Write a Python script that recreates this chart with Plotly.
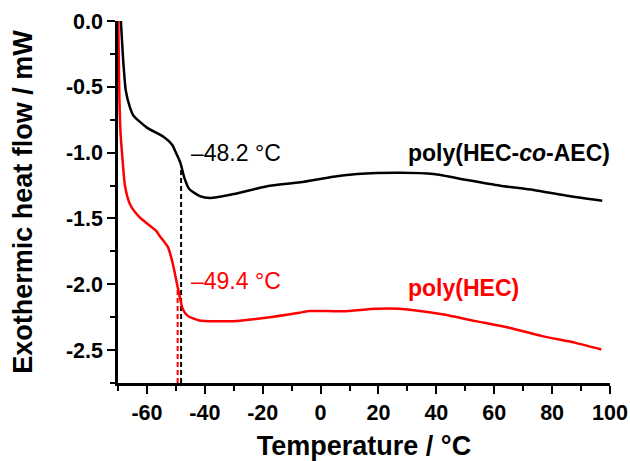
import plotly.graph_objects as go

# Data
copoly_temp = [-69.0, -68.2, -67.3, -65.9, -64.7, -60.0, -54.3, -51.3, -50.0, -48.4, -47.1, -45.4,
               -41.7, -38.3, -30.0, -18.5, -7.0, 4.4, 12.6, 27.6, 39.1, 50.6, 62.1, 73.6, 85.1, 97.3]
copoly_flow = [0.0, -0.30, -0.53, -0.655, -0.718, -0.81, -0.88, -0.94, -1.0, -1.08, -1.19, -1.276,
               -1.33, -1.345, -1.315, -1.255, -1.225, -1.183, -1.162, -1.152, -1.162, -1.208, -1.251,
               -1.284, -1.327, -1.365]

hec_temp = [-69.9, -69.6, -69.1, -68.4, -67.6, -65.9, -62.6, -56.8, -55.6, -52.7, -51.0, -49.3,
            -47.6, -45.9, -41.9, -30.4, -18.9, -7.4, -3.9, 7.6, 19.1, 27.1, 42.0, 53.6, 65.1,
            76.6, 88.1, 97.0]
hec_flow = [0.0, -0.50, -0.858, -1.06, -1.25, -1.39, -1.49, -1.594, -1.633, -1.72, -1.85, -2.03,
            -2.19, -2.24, -2.275, -2.28, -2.254, -2.216, -2.203, -2.205, -2.186, -2.186, -2.228,
            -2.28, -2.33, -2.394, -2.445, -2.495]

tg_temps = [-48.2, -49.4]
tg_flows = [-1.10, -2.03]
tg_labels = ["–48.2 °C", "–49.4 °C"]
series_names = ["poly(HEC-<i>co</i>-AEC)", "poly(HEC)"]
colors = ["#000000", "#ff0000"]

x_ticks = [-60, -40, -20, 0, 20, 40, 60, 80, 100]
x_ticktext = ["-60", "-40", "-20", "0", "20", "40", "60", "80", "100"]
x_minor = [-70, -50, -30, -10, 10, 30, 50, 70, 90]
y_ticks = [0.0, -0.5, -1.0, -1.5, -2.0, -2.5]
y_ticktext = ["0.0", "-0.5", "-1.0", "-1.5", "-2.0", "-2.5"]
y_minor = [-0.25, -0.75, -1.25, -1.75, -2.25, -2.75]

x_range = [-70, 100]
y_range = [-2.75, 0]

FONT = "Arial, Liberation Sans, sans-serif"

fig = go.Figure()

# dashed Tg markers (drawn first so curves sit on top)
for t, f, c in zip(tg_temps, tg_flows, colors):
    fig.add_trace(go.Scatter(x=[t, t], y=[y_range[0], f], mode="lines",
                             line=dict(color=c, width=2, dash="5px,3px"),
                             showlegend=False, hoverinfo="skip", cliponaxis=False))

fig.add_trace(go.Scatter(x=hec_temp, y=hec_flow, mode="lines",
                         line=dict(color=colors[1], width=2.5, shape="spline", smoothing=0.6),
                         showlegend=False))
fig.add_trace(go.Scatter(x=copoly_temp, y=copoly_flow, mode="lines",
                         line=dict(color=colors[0], width=2.5, shape="spline", smoothing=0.6),
                         showlegend=False))

# Tg annotations
for t, f, lab, c in zip([-45.3, -45.3], [-1.0, -1.975], tg_labels, colors):
    fig.add_annotation(x=t, y=f, text=lab, showarrow=False, xanchor="left", yanchor="middle",
                       font=dict(family=FONT, size=23, color=c))

# series labels
for y, lab, c in zip([-1.0, -2.026], series_names, colors):
    fig.add_annotation(x=29.5, y=y, text=lab, showarrow=False, xanchor="left", yanchor="middle",
                       font=dict(family=FONT, size=23, color=c, weight="bold"))

axis_common = dict(showline=True, linecolor="black", linewidth=2.5, ticks="outside",
                   ticklen=8, tickwidth=2, tickcolor="black", showgrid=False, zeroline=False,
                   mirror=False, automargin=False,
                   tickfont=dict(family=FONT, size=21.5, color="black", weight="bold"))

fig.update_xaxes(range=x_range, tickvals=x_ticks, ticktext=x_ticktext,
                 minor=dict(ticks="outside", ticklen=5, tickwidth=2, tickcolor="black",
                            tickvals=x_minor),
                 title=dict(text="Temperature / °C", standoff=14,
                            font=dict(family=FONT, size=27, color="black", weight="bold")),
                 **axis_common)
fig.update_yaxes(range=y_range, tickvals=y_ticks, ticktext=y_ticktext,
                 minor=dict(ticks="outside", ticklen=5, tickwidth=2, tickcolor="black",
                            tickvals=y_minor),
                 title=dict(text="Exothermic heat flow / mW", standoff=26,
                            font=dict(family=FONT, size=27, color="black", weight="bold")),
                 **axis_common)

fig.update_layout(width=630, height=461, plot_bgcolor="white", paper_bgcolor="white",
                  margin=dict(l=118, r=20, t=21, b=78), showlegend=False)

fig.write_html("out.html", config={"displayModeBar": False},
               post_script="document.body.style.margin='0';")
